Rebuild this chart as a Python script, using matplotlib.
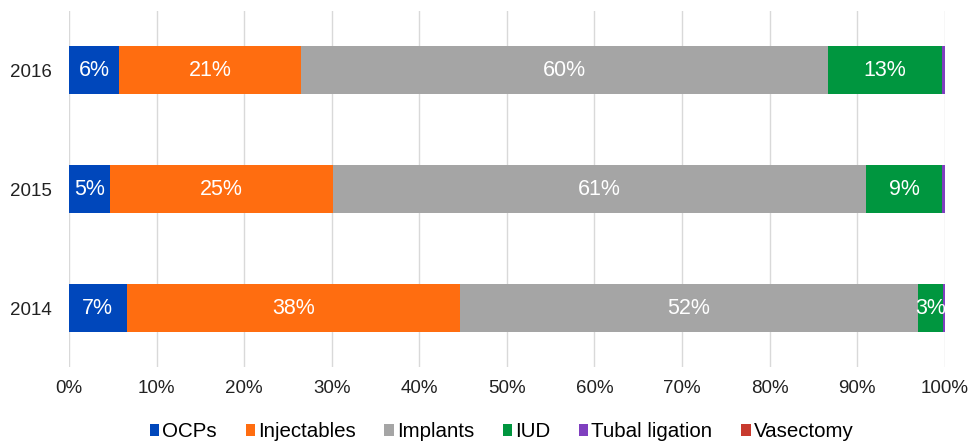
import numpy as np
import matplotlib
matplotlib.use("Agg")
import matplotlib.pyplot as plt

plt.rcParams['font.family'] = ['Liberation Sans', 'DejaVu Sans']

years = ['2014', '2015', '2016']
methods = ['OCPs', 'Injectables', 'Implants', 'IUD', 'Tubal ligation', 'Vasectomy']
# share of each method per year (%)
ocps = [6.6, 4.7, 5.7]
injectables = [38.0, 25.4, 20.8]
implants = [52.3, 60.9, 60.2]
iud = [2.9, 8.7, 13.0]
tubal = [0.2, 0.3, 0.3]
vasectomy = [0.02, 0.02, 0.02]
labels_shown = [True, True, True, True, False, False]

colors = ['#0047bb', '#ff6d10', '#a5a5a5', '#00963f', '#7f3fbf', '#c83a2e']
series = [ocps, injectables, implants, iud, tubal, vasectomy]

fig = plt.figure(figsize=(9.7, 4.42), dpi=100)
ax = fig.add_axes([0.0711, 0.1686, 0.9029, 0.8074])

y = np.arange(len(years))
left = np.zeros(len(years))
for name, vals, col, show in zip(methods, series, colors, labels_shown):
    vals = np.array(vals)
    ax.barh(y, vals, left=left, height=0.4, color=col, label=name, zorder=3)
    if show:
        for yi, l, v in zip(y, left, vals):
            ax.text(l + v / 2, yi, '%d%%' % round(v), ha='center', va='center',
                    color='white', fontsize=15.5, zorder=4)
    left += vals

ax.set_xlim(0, 100)
ax.set_ylim(-0.5, 2.5)
ax.set_xticks(np.arange(0, 101, 10))
ax.set_xticklabels(['%d%%' % t for t in range(0, 101, 10)])
ax.set_yticks(y)
ax.set_yticklabels(years)
ax.tick_params(axis='both', length=0, labelsize=13.5, colors='#222222')
ax.tick_params(axis='y', pad=12.5)
ax.tick_params(axis='x', pad=9)
ax.grid(axis='x', color='#d9d9d9', linewidth=1, zorder=0)
for s in ax.spines.values():
    s.set_visible(False)

ax.legend(loc='center', bbox_to_anchor=(0.494, -0.18), ncol=6, frameon=False,
          fontsize=14.8, handlelength=0.45, handleheight=0.5, handletextpad=0.15,
          columnspacing=1.4, borderaxespad=0)

fig.savefig('out.png', dpi=100)
